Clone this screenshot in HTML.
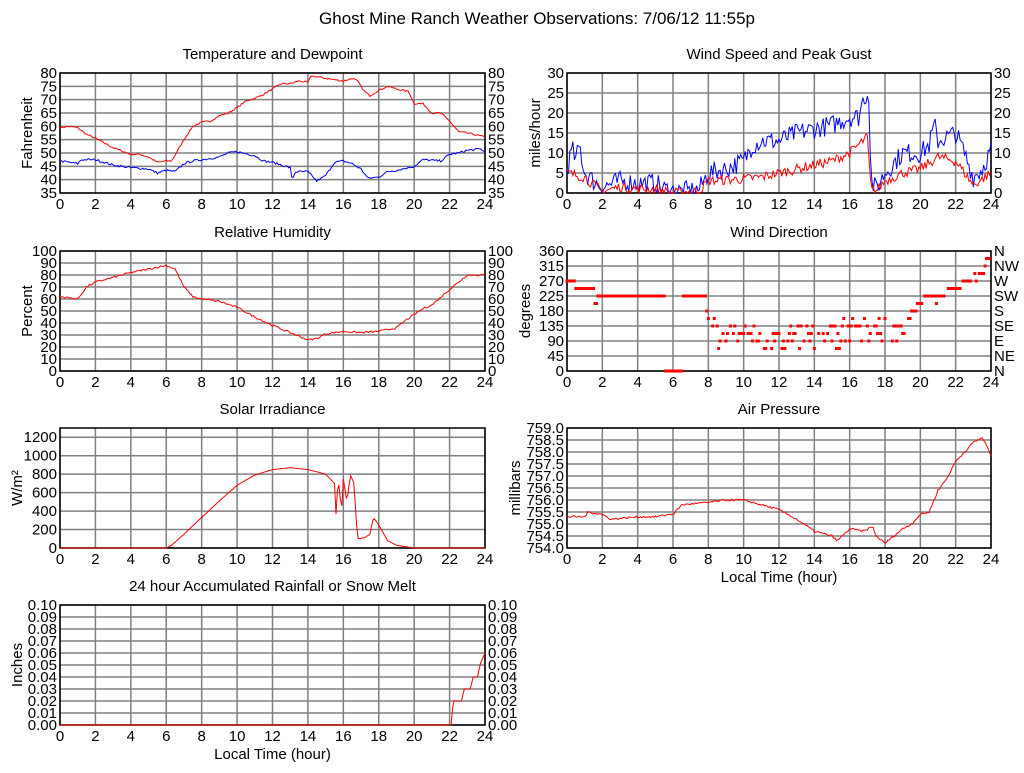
<!DOCTYPE html>
<html><head><meta charset="utf-8"><style>
html,body{margin:0;padding:0;background:#fff}
svg text{font-family:"Liberation Sans",sans-serif;font-size:15px;fill:#000}
</style></head><body>
<svg id="s" width="1024" height="768" xmlns="http://www.w3.org/2000/svg">
<text x="537" y="24" text-anchor="middle" style="font-size:17px">Ghost Mine Ranch Weather Observations: 7/06/12 11:55p</text>
</svg>
<script>
var S=document.getElementById('s'),NS='http://www.w3.org/2000/svg';
function el(t,a,txt){var e=document.createElementNS(NS,t);for(var k in a)e.setAttribute(k,a[k]);if(txt!=null)e.textContent=txt;S.appendChild(e);return e;}
var seed=7;function rnd(){seed=(seed*16807)%2147483647;return seed/2147483647;}
function interp(p,h){for(var i=1;i<p.length;i++){if(h<=p[i][0]){var a=p[i-1],b=p[i];var t=(h-a[0])/(b[0]-a[0]||1);return a[1]+(b[1]-a[1])*t;}}return p[p.length-1][1];}
function plot(o){
 var x0=o.x,y0=o.y,w=o.w||425,h=120,x1=x0+w,y1=y0+h;
 el('text',{x:x0+w/2,y:y0-14,'text-anchor':'middle'},o.title);
 for(var i=0;i<=12;i++){var x=x0+w*i/12;el('line',{x1:x,y1:y0,x2:x,y2:y1,stroke:'#808080','stroke-width':1.5});el('text',{x:x,y:y1+16,'text-anchor':'middle'},i*2);}
 var n=o.ticks.length;
 for(var j=0;j<n;j++){var y=y1-h*j/(n-1)*(o.frac||1);el('line',{x1:x0,y1:y,x2:x1,y2:y,stroke:'#808080','stroke-width':1.5});
  el('text',{x:x0-3,y:y+5,'text-anchor':'end'},o.ticks[j]);
  if(o.right)el('text',{x:x1+3,y:y+5},o.right[j]);}
 el('rect',{x:x0,y:y0,width:w,height:h,fill:'none',stroke:'#000','stroke-width':1.5});
 var ly=o.lx,cy=y0+h/2;el('text',{x:ly,y:cy,'text-anchor':'middle',transform:'rotate(-90 '+ly+' '+cy+')'},o.ylabel);
 if(o.xlabel)el('text',{x:x0+w/2,y:y1+34,'text-anchor':'middle'},'Local Time (hour)');
 o.series.forEach(function(sr){
  var pts=[];for(var k=0;k<=288;k++){var hh=k/12;var nz=sr.nf?sr.nf(hh):(sr.n||0);var v=interp(sr.p,hh)+(rnd()-0.5)*nz;if(sr.min!=null&&v<sr.min)v=sr.min;
   if(sr.q)v=Math.round(v/sr.q)*sr.q;
   var px=x0+w*hh/24,py=y1-h*(v-o.lo)/(o.hi-o.lo);
   if(sr.dots){if(sr.skip&&sr.skip(hh))continue;el('rect',{x:px-1.5,y:py-1.5,width:3,height:3,fill:'#f00'});}else pts.push(px.toFixed(1)+','+py.toFixed(1));}
  if(!sr.dots)el('polyline',{points:pts.join(' '),fill:'none',stroke:sr.c,'stroke-width':1});
 });
}
var L=60,R=567;
plot({x:L,y:73,title:'Temperature and Dewpoint',ylabel:'Fahrenheit',lx:32,lo:35,hi:80,ticks:[35,40,45,50,55,60,65,70,75,80],right:[35,40,45,50,55,60,65,70,75,80],series:[
{c:'#f00',n:0.6,p:[[0,59.5],[0.5,60],[1,59.5],[1.5,57],[2,55.5],[3,52],[4,49.5],[4.5,49.5],[5,48.5],[5.5,46.5],[6,47],[6.3,47],[7,55],[7.5,60],[8,61.5],[8.5,62],[9,64],[9.5,65],[10,67],[10.5,69.5],[11,70.5],[11.5,72],[12,74],[12.5,76],[13,76],[13.5,77],[14,76.5],[14.2,79],[15,78],[15.5,77.5],[16,77],[16.5,78],[16.8,77],[17.2,73],[17.5,71.5],[18,73.5],[18.5,75],[19,74],[19.7,73],[20,68.5],[20.5,68.5],[21,65],[21.5,65],[22,62],[22.5,58],[23,57.5],[24,56]]},
{c:'#00f',n:0.8,p:[[0,47],[0.5,46.5],[1,46],[1.2,47.5],[2,47.5],[3,45.5],[4,44.5],[5,44],[5.5,42.5],[6,43.5],[6.5,43],[7,46],[7.5,47],[8,47.5],[9,48.5],[9.5,50],[10,50.5],[11,49],[11.5,47],[12,46.5],[13,44.5],[13.1,40],[13.3,43],[14,43],[14.5,39.5],[15,41.5],[15.5,46.5],[16,47],[16.5,46],[17,44],[17.4,40.5],[18,41],[18.5,43],[19,43.5],[20,45],[20.5,47.5],[21.5,47],[22,49.5],[22.5,50],[23,51],[23.8,51.5],[24,50]]}]});
plot({x:R,y:73,w:424,title:'Wind Speed and Peak Gust',ylabel:'miles/hour',lx:540,lo:0,hi:30,ticks:[0,5,10,15,20,25,30],right:[0,5,10,15,20,25,30],series:[
{c:'#00f',n:5,min:0,p:[[0,6],[0.3,11],[0.5,8],[0.7,12],[1,5],[1.5,3],[2,1.5],[3,3],[4,2.5],[5,2.5],[5.5,1],[6,0.5],[7,0.5],[7.5,1],[8,5],[9,6],[10,8],[10.5,12],[11,13],[12,13],[13,15],[14,16],[15,17],[16,19],[16.5,19],[16.8,24],[17.1,25],[17.2,3],[17.5,1],[18,5],[19,10],[20,10],[20.5,12],[20.8,17],[21,13],[22,15],[22.5,10],[23,4],[23.5,6],[24,11]]},
{c:'#f00',n:2.5,min:0,p:[[0,5],[1,4],[1.5,2],[2,0.5],[3,1.5],[4,1],[5,1],[6,0],[7.5,0.5],[8,3],[10,3.5],[11,4],[12,5],[13,6],[14,7],[15,8],[16,10],[17,14],[17.2,1],[17.5,0.5],[18,3],[19,5],[20,6],[21,9],[22,8],[22.5,5],[23,2],[24,5]]}]});
plot({x:L,y:251,title:'Relative Humidity',ylabel:'Percent',lx:32,lo:0,hi:100,ticks:[0,10,20,30,40,50,60,70,80,90,100],right:[0,10,20,30,40,50,60,70,80,90,100],series:[
{c:'#f00',n:1.5,p:[[0,62],[1,60],[1.5,70],[2,74],[3,78],[4,82],[5,85],[6,88],[6.5,85],[7,70],[7.5,62],[8,60],[9,58],[10,53],[11,45],[12,38],[13,32],[14,26],[14.5,27],[15,31],[16,33],[17,32],[18,33],[19,36],[19.5,42],[20,47],[20.5,52],[21,55],[22,68],[23,80],[24,80]]}]});
plot({x:R,y:251,w:424,title:'Wind Direction',ylabel:'degrees',lx:530,lo:0,hi:360,ticks:[0,45,90,135,180,225,270,315,360],right:['N','NE','E','SE','S','SW','W','NW','N'],series:[
{dots:1,q:22.5,nf:function(h){return (h>8&&h<19.5)?70:(h>19.5?20:0);},skip:function(h){return h>8&&rnd()<0.35;},p:[[0,270],[0.4,270],[0.45,247],[1.5,247],[1.55,202],[1.8,225],[5.5,225],[5.55,0],[6.5,0],[6.55,225],[7.8,225],[8,160],[8.5,110],[9,95],[9.5,110],[10,120],[10.5,100],[11,90],[11.5,80],[12,100],[13,95],[14,105],[15,110],[16,115],[17,125],[18,130],[19,115],[19.5,180],[20,200],[21,225],[22,247],[22.5,265],[23,280],[23.5,300],[24,345]]}]});
plot({x:L,y:428,title:'Solar Irradiance',ylabel:'W/m²',lx:22,lo:0,hi:1300,frac:1200/1300,ticks:[0,200,400,600,800,1000,1200],series:[
{c:'#f00',n:0,p:[[0,0],[6,0],[6.3,30],[7,150],[8,330],[9,510],[10,680],[11,790],[12,850],[13,870],[14,850],[15,800],[15.5,700],[15.6,300],[15.7,780],[15.9,400],[16,750],[16.2,500],[16.4,790],[16.6,700],[16.8,100],[17.2,110],[17.5,150],[17.7,330],[18,250],[18.5,80],[19,30],[20,0],[24,0]]}]});
plot({x:R,y:428,w:424,title:'Air Pressure',ylabel:'millibars',lx:520,lo:754,hi:759,ticks:['754.0','754.5','755.0','755.5','756.0','756.5','757.0','757.5','758.0','758.5','759.0'],xlabel:1,series:[
{c:'#f00',n:0.08,p:[[0,755.3],[0.5,755.3],[1,755.3],[1.2,755.5],[2,755.4],[2.5,755.2],[4,755.3],[5,755.3],[5.8,755.4],[6,755.4],[6.5,755.8],[8,755.9],[9,756],[10,756],[11,755.8],[12,755.6],[13,755.2],[14,754.7],[15,754.5],[15.3,754.3],[16,754.8],[16.8,754.7],[17.3,754.9],[17.5,754.5],[18,754.2],[18.5,754.5],[19,754.8],[19.5,755],[20,755.4],[20.5,755.5],[21,756.4],[21.5,756.9],[22,757.6],[22.5,758],[23,758.4],[23.5,758.6],[23.8,758.2],[24,757.8]]}]});
plot({x:L,y:605,title:'24 hour Accumulated Rainfall or Snow Melt',ylabel:'Inches',lx:22,lo:0,hi:0.1,ticks:['0.00','0.01','0.02','0.03','0.04','0.05','0.06','0.07','0.08','0.09','0.10'],right:['0.00','0.01','0.02','0.03','0.04','0.05','0.06','0.07','0.08','0.09','0.10'],xlabel:1,series:[
{c:'#f00',n:0,p:[[0,0],[22.1,0],[22.2,0.02],[22.7,0.02],[22.8,0.03],[23.2,0.03],[23.3,0.04],[23.6,0.04],[23.7,0.05],[24,0.06]]}]});
</script>
</body></html>
